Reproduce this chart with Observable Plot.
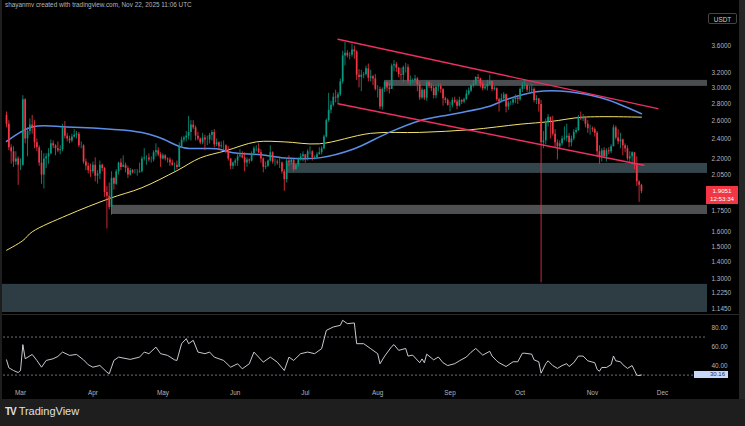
<!DOCTYPE html>
<html><head><meta charset="utf-8">
<script src="https://cdn.jsdelivr.net/npm/d3@7"></script>
<script src="https://cdn.jsdelivr.net/npm/@observablehq/plot@0.6"></script>
<style>
html,body{margin:0;padding:0;background:#000;width:745px;height:426px;overflow:hidden;font-family:"Liberation Sans",Arial,sans-serif;}
#wrap{position:relative;width:745px;height:426px;background:#000;overflow:hidden;}
.abs{position:absolute;}
svg{display:block;}
</style></head><body><div id="wrap">
<div class="abs" style="left:5px;top:1px;font-size:6.4px;color:#b4b4b4;white-space:nowrap">shayanmv created with tradingview.com, Nov 22, 2025 11:06 UTC</div>
<div class="abs" id="price" style="left:0;top:12px"></div>
<div class="abs" style="left:0;top:314px;width:739px;height:1px;background:#2a2a2a"></div>
<div class="abs" id="rsi" style="left:0;top:316px"></div>
<div class="abs" style="left:0;top:0;width:2px;height:399px;background:#1e1e1e"></div>
<div class="abs" style="left:739px;top:0;width:6px;height:399px;background:#262626"></div>
<div class="abs" style="left:708px;top:13px;width:29px;height:11px;border:1px solid #444;border-radius:2px;color:#d0d0d0;font-size:6.4px;line-height:11px;text-align:center;box-sizing:border-box">USDT</div>
<div class="abs" id="plabel" style="left:706px;width:32px;height:18px;background:#f23645;color:#fff;font-size:6.2px;line-height:8px;text-align:center;padding-top:1px;box-sizing:border-box"></div>
<div class="abs" id="rlabel" style="left:694px;width:34px;height:7px;background:#c9d8f6;color:#1a2a5a;font-size:6px;line-height:7px;text-align:right;padding-right:3px;box-sizing:border-box"></div>
<div class="abs" style="left:0;top:399px;width:745px;height:27px;background:#1e1e1e"></div>
<div class="abs" style="left:5px;top:405px;color:#e0e0e0;font-size:11px;line-height:12px;white-space:nowrap"><span style="font-weight:900;letter-spacing:-1px;font-size:10px">TV</span> <span>TradingView</span></div>
</div>
<script>
// ---------- data ----------
const startDate = "2025-02-23";
const firstOpen = 2.66;
const closes = [
 2.56,2.31,2.27,2.17,2.20,2.14,
 2.14,2.85,2.40,2.48,2.55,2.52,2.36,2.31,2.16,2.05, 2.20,2.22,2.25,2.35,2.33,2.30,2.28,2.29,2.52,2.43, 2.40,2.38,2.42,2.44,2.45,2.33,2.33,2.17,2.13,2.09, 2.08,
 2.14,2.04,2.06,2.14,2.11,1.90,1.87,1.78,2.02,1.97, 2.08,2.16,2.12,2.14,2.11,2.05,2.09,2.07,2.07,2.07, 2.08,2.20,2.21,2.21,2.19,2.19,2.26,2.28,2.24,2.20,
 2.23,2.20,2.19,2.16,2.14,2.14,2.12,2.32,2.39,2.41, 2.43,2.47,2.55,2.52,2.43,2.40,2.36,2.41,2.39,2.39, 2.44,2.47,2.34,2.36,2.32,2.33,2.33,2.27,2.20,2.13, 2.16,
 2.18,2.22,2.23,2.21,2.16,2.19,2.18,2.25,2.30,2.30, 2.26,2.20,2.12,2.13,2.18,2.26,2.17,2.17,2.16,2.16, 2.08,2.01,2.18,2.16,2.19,2.10,2.14,2.20,2.22,2.24,
 2.20,2.27,2.27,2.21,2.21,2.24,2.26,2.30,2.42,2.60, 2.72,2.78,2.88,2.87,2.91,3.08,3.45,3.49,3.45,3.46, 3.54,3.51,3.17,3.14,3.17,3.18,3.26,3.13,3.15,3.12, 2.98,
 2.98,2.76,2.98,3.07,3.00,2.98,3.30,3.32,3.27,3.18, 3.17,3.28,3.28,3.09,3.10,3.10,3.12,3.04,2.87,2.97, 2.87,3.07,3.02,2.99,2.90,3.01,3.02,2.98,2.86,2.84, 2.78,
 2.78,2.84,2.82,2.77,2.84,2.82,2.85,2.92,2.96,3.03, 3.05,3.14,3.12,3.05,2.99,3.01,3.05,3.08,2.98,2.99, 2.85,2.82,2.86,2.91,2.76,2.81,2.81,2.85,2.87,2.85,
 2.98,3.03,3.03,2.97,2.97,2.98,2.84,2.86,2.79,2.36, 2.38,2.59,2.64,2.59,2.45,2.36,2.32,2.35,2.40,2.41, 2.43,2.36,2.40,2.47,2.49,2.64,2.62,2.63,2.56,2.51, 2.51,
 2.50,2.46,2.27,2.22,2.28,2.22,2.28,2.27,2.32,2.52, 2.41,2.37,2.39,2.33,2.30,2.20,2.22,2.26,2.14,1.99, 1.96,1.91
];
const highs = [
 2.70,2.60,2.34,2.32,2.27,2.22,
 2.20,2.90,2.86,2.52,2.62,2.66,2.60,2.40,2.33,2.28, 2.25,2.25,2.30,2.39,2.38,2.34,2.37,2.33,2.56,2.59, 2.46,2.43,2.45,2.50,2.48,2.47,2.37,2.34,2.20,2.16, 2.15,
 2.17,2.21,2.09,2.18,2.15,2.12,1.95,1.98,2.08,2.03, 2.10,2.17,2.20,2.23,2.16,2.13,2.11,2.10,2.10,2.10, 2.16,2.22,2.30,2.23,2.25,2.22,2.28,2.35,2.31,2.26,
 2.25,2.24,2.21,2.21,2.19,2.16,2.18,2.36,2.42,2.43, 2.48,2.65,2.60,2.60,2.54,2.47,2.41,2.46,2.44,2.43, 2.46,2.49,2.50,2.40,2.37,2.37,2.38,2.34,2.32,2.20, 2.17,
 2.20,2.25,2.29,2.27,2.26,2.21,2.20,2.27,2.32,2.33, 2.35,2.29,2.21,2.17,2.19,2.33,2.27,2.20,2.19,2.22, 2.17,2.10,2.20,2.23,2.21,2.19,2.15,2.21,2.25,2.27,
 2.24,2.29,2.32,2.28,2.23,2.26,2.31,2.32,2.44,2.62, 2.93,2.83,2.93,2.97,2.94,3.12,3.52,3.66,3.53,3.50, 3.63,3.60,3.53,3.25,3.24,3.21,3.30,3.33,3.24,3.17, 3.18,
 3.03,3.01,3.00,3.09,3.08,3.06,3.33,3.38,3.35,3.28, 3.27,3.30,3.34,3.32,3.16,3.12,3.17,3.14,3.08,3.00, 2.98,3.09,3.09,3.06,3.03,3.03,3.05,3.05,2.99,2.88, 2.86,
 2.82,2.87,2.88,2.85,2.88,2.85,2.87,2.97,3.00,3.04, 3.10,3.15,3.18,3.13,3.08,3.04,3.10,3.17,3.09,3.02, 3.00,2.87,2.92,2.94,2.92,2.83,2.83,2.87,2.91,2.90,
 3.00,3.07,3.10,3.05,3.02,3.04,3.00,2.90,2.86,2.84, 2.48,2.62,2.67,2.62,2.65,2.50,2.39,2.38,2.43,2.53, 2.56,2.46,2.43,2.50,2.52,2.66,2.70,2.67,2.65,2.60, 2.55,
 2.53,2.52,2.48,2.33,2.30,2.31,2.30,2.31,2.34,2.55, 2.54,2.50,2.46,2.40,2.35,2.33,2.27,2.27,2.26,2.22, 2.00,1.97
];
const lows = [
 2.52,2.28,2.15,2.12,2.14,1.96,
 2.09,2.13,2.35,2.22,2.44,2.45,2.30,2.27,2.13,1.97, 1.93,2.11,2.15,2.24,2.30,2.23,2.26,2.24,2.27,2.40, 2.37,2.35,2.36,2.41,2.40,2.31,2.30,2.15,2.09,2.06, 2.03,
 2.06,1.99,1.97,2.01,2.08,1.86,1.62,1.76,1.72,1.92, 1.96,2.05,2.09,2.12,2.07,2.02,2.04,2.06,2.06,2.04, 2.07,2.07,2.18,2.14,2.17,2.16,2.17,2.22,2.22,2.12,
 2.19,2.18,2.16,2.13,2.13,2.08,2.10,2.12,2.30,2.36, 2.37,2.39,2.38,2.50,2.38,2.38,2.34,2.34,2.28,2.33, 2.35,2.38,2.31,2.32,2.28,2.30,2.28,2.25,2.18,2.10, 2.10,
 2.13,2.13,2.21,2.20,2.08,2.12,2.15,2.17,2.23,2.27, 2.25,2.16,2.07,2.10,2.12,2.17,2.15,2.13,2.14,2.11, 2.06,1.91,1.98,2.13,2.14,2.08,2.09,2.12,2.18,2.17,
 2.16,2.18,2.24,2.18,2.19,2.20,2.24,2.24,2.29,2.41, 2.58,2.68,2.76,2.81,2.80,2.89,3.05,3.30,3.42,3.39, 3.43,3.40,3.10,3.00,2.95,3.12,3.16,3.08,3.08,3.03, 2.96,
 2.87,2.73,2.72,2.94,2.95,2.92,2.98,3.22,3.21,3.14, 3.10,3.07,3.20,3.05,3.03,3.06,3.07,2.95,2.84,2.85, 2.84,2.83,2.99,2.95,2.86,2.86,2.95,2.93,2.77,2.80, 2.77,
 2.70,2.75,2.80,2.73,2.76,2.79,2.80,2.84,2.90,2.94, 3.00,3.03,3.08,3.00,2.96,2.97,2.96,3.03,2.95,2.96, 2.83,2.70,2.81,2.84,2.69,2.72,2.78,2.78,2.80,2.79,
 2.83,2.94,2.98,2.94,2.94,2.93,2.81,2.79,2.70,1.28, 2.30,2.34,2.53,2.40,2.43,2.31,2.19,2.30,2.33,2.38, 2.37,2.31,2.32,2.38,2.45,2.48,2.60,2.59,2.52,2.46, 2.44,
 2.47,2.42,2.22,2.15,2.17,2.20,2.17,2.24,2.25,2.32, 2.39,2.34,2.30,2.23,2.26,2.18,2.16,2.14,2.10,1.95, 1.82,1.89
];

// moving averages
const ma100Dates = ["2025-02-23","2025-03-06","2025-03-21","2025-04-22","2025-04-30","2025-05-10","2025-05-24","2025-05-31","2025-06-12","2025-06-22","2025-07-07","2025-07-22","2025-08-05","2025-08-19","2025-09-03","2025-09-18","2025-09-25","2025-10-08","2025-10-22","2025-11-05","2025-11-12","2025-11-22"];
const ma100Vals  = [2.375,2.53,2.53,2.47,2.41,2.31,2.30,2.26,2.24,2.21,2.21,2.30,2.46,2.60,2.68,2.77,2.85,2.95,2.95,2.87,2.80,2.68];
const ma200Dates = ["2025-02-23","2025-03-02","2025-03-06","2025-03-21","2025-04-08","2025-04-22","2025-05-07","2025-05-17","2025-05-28","2025-06-10","2025-06-22","2025-07-07","2025-07-29","2025-08-19","2025-09-10","2025-10-01","2025-10-14","2025-10-28","2025-11-22"];
const ma200Vals  = [1.476,1.54,1.60,1.72,1.85,1.94,2.09,2.21,2.28,2.37,2.37,2.35,2.46,2.47,2.50,2.56,2.59,2.64,2.64];

// descending channel
const upperDates = ["2025-07-15","2025-11-29"], upperVals = [3.71, 2.74];
const lowerDates = ["2025-07-15","2025-11-23"], lowerVals = [2.80, 2.14];

// horizontal zones
const zoneStarts = ["2025-08-04","2025-06-23","2025-04-09","2025-02-21"];
const zoneLows   = [3.02, 2.065, 1.726, 1.125];
const zoneHighs  = [3.10, 2.157, 1.796, 1.272];

const priceTicks = [3.6,3.2,3.0,2.8,2.6,2.4,2.2,2.05,1.75,1.6,1.5,1.4,1.3,1.225,1.145];
const lastPrice = 1.9051, countdown = "12:53:34";

// RSI
const rsiDates = ["2025-02-23","2025-02-24","2025-02-26","2025-02-28","2025-03-01","2025-03-02","2025-03-03","2025-03-06","2025-03-08","2025-03-10","2025-03-12","2025-03-15","2025-03-17","2025-03-19","2025-03-22","2025-03-25","2025-03-28","2025-03-30","2025-04-01","2025-04-04","2025-04-07","2025-04-08","2025-04-10","2025-04-12","2025-04-17","2025-04-21","2025-04-23","2025-04-25","2025-04-28","2025-04-30","2025-05-03","2025-05-06","2025-05-07","2025-05-09","2025-05-11","2025-05-12","2025-05-14","2025-05-16","2025-05-19","2025-05-21","2025-05-23","2025-05-27","2025-05-30","2025-06-02","2025-06-04","2025-06-07","2025-06-09","2025-06-13","2025-06-16","2025-06-19","2025-06-22","2025-06-24","2025-06-26","2025-06-29","2025-07-02","2025-07-05","2025-07-08","2025-07-10","2025-07-13","2025-07-16","2025-07-17","2025-07-19","2025-07-22","2025-07-23","2025-07-26","2025-07-29","2025-08-01","2025-08-02",
 "2025-08-04","2025-08-07","2025-08-08","2025-08-10","2025-08-13","2025-08-14","2025-08-16","2025-08-19","2025-08-20","2025-08-21","2025-08-22","2025-08-25","2025-08-27","2025-08-29","2025-08-31","2025-09-03","2025-09-05","2025-09-08","2025-09-10","2025-09-12","2025-09-15","2025-09-18","2025-09-19","2025-09-21","2025-09-22","2025-09-25","2025-09-28","2025-09-30","2025-10-02","2025-10-03","2025-10-06","2025-10-07","2025-10-09","2025-10-10","2025-10-12","2025-10-13","2025-10-15","2025-10-17","2025-10-19","2025-10-21","2025-10-22","2025-10-24","2025-10-26","2025-10-28","2025-10-30","2025-11-02","2025-11-03","2025-11-04","2025-11-05","2025-11-07","2025-11-09","2025-11-10","2025-11-11","2025-11-13","2025-11-14","2025-11-16","2025-11-18","2025-11-19","2025-11-20","2025-11-21","2025-11-22"];
const rsiVals = [46,37.7,34.8,32.7,34.8,62,47.2,51.7,45.4,38.3,45.4,47.2,49.6,54.2,50.7,51.7,46,40.9,38.3,40.1,33.1,31.4,45.4,48.9,46.5,48.9,54.2,52.5,59.4,52.5,50.7,46,45.4,63,68.3,63,66.5,54.2,52.5,54.2,48.9,45.4,38.3,41.9,36.6,41.9,54.2,43.6,48.9,43.6,34.8,48.9,45.4,52.5,54.2,52.5,57.8,77,80.6,82.3,87.6,84.1,84.8,63,63,57.8,52.5,41.9,
 50,60,62,56,58,50,51,43,47,43,52,46,49,43,40,42,45,49,54,58,51,55,50,45,43,39,44,44,53,53,52,46,44,32,42,45,40,37,40,42,39,43,50,50,45,43,36,34,38,38,41,50,45,44,41,37,40,35,30,29.5,30.16];
const rsiTicks = [80,60,40];
const rsiLevels = [70,30];
const monthTicks = ["2025-03-01","2025-04-01","2025-05-01","2025-06-01","2025-07-01","2025-08-01","2025-09-01","2025-10-01","2025-11-01","2025-12-01"];

// ---------- build ----------
const P = s => new Date(s + "T00:00:00Z");
const start = P(startDate);
const candles = closes.map((c, i) => ({
  date: d3.utcDay.offset(start, i),
  open: i === 0 ? firstOpen : closes[i - 1],
  close: c, high: highs[i], low: lows[i]
}));
console.log("lengths", closes.length, highs.length, lows.length, rsiDates.length, rsiVals.length);

const UP = "#089981", DOWN = "#f23645";
const col = d => d.close >= d.open ? UP : DOWN;
const xDomain = [new Date("2025-02-21T17:00:00Z"), new Date("2025-12-20T07:00:00Z")];
const W = 745, ML = 3, MR = 38;
const axisCol = "#b2b5be";
const zoneFill = ["#4a4d4f", "#34454b", "#4e5052", "#2d3d43"];

const zones = zoneStarts.map((s, i) => ({x1: P(s), x2: xDomain[1], y1: zoneLows[i], y2: zoneHighs[i], i}));
const ma100 = ma100Dates.map((d, i) => ({date: P(d), v: ma100Vals[i]}));
const ma200 = ma200Dates.map((d, i) => ({date: P(d), v: ma200Vals[i]}));
const upper = upperDates.map((d, i) => ({date: P(d), v: upperVals[i]}));
const lower = lowerDates.map((d, i) => ({date: P(d), v: lowerVals[i]}));

const price = Plot.plot({
  width: W, height: 301, marginLeft: ML, marginRight: MR, marginTop: 0, marginBottom: 0,
  style: {background: "transparent", fontFamily: "Liberation Sans, Arial, sans-serif"},
  x: {type: "utc", domain: xDomain, axis: null},
  y: {type: "log", domain: [1.12, 4.17], axis: null},
  marks: [
    Plot.rect(zones, {x1: "x1", x2: "x2", y1: "y1", y2: "y2", fill: d => zoneFill[d.i]}),
    Plot.line(ma200, {x: "date", y: "v", stroke: "#f3e36c", strokeWidth: 1, curve: "catmull-rom"}),
    Plot.line(ma100, {x: "date", y: "v", stroke: "#5b8ee8", strokeWidth: 1.5, curve: "catmull-rom"}),
    Plot.ruleX(candles, {x: "date", y1: "low", y2: "high", stroke: col, strokeWidth: 0.8}),
    Plot.ruleX(candles, {x: "date", y1: "open", y2: "close", stroke: col, strokeWidth: 1.7}),
    Plot.line(upper, {x: "date", y: "v", stroke: "#ee2f62", strokeWidth: 1.4}),
    Plot.line(lower, {x: "date", y: "v", stroke: "#ee2f62", strokeWidth: 1.4}),
    Plot.axisY({anchor: "right", ticks: priceTicks, tickFormat: d => d.toFixed(4), tickSize: 0, tickPadding: 4, fontSize: 6.4, fill: axisCol, label: null})
  ]
});
document.getElementById("price").appendChild(price);

const rsiData = rsiDates.map((d, i) => ({date: P(d), v: rsiVals[i]}));
const rsi = Plot.plot({
  width: W, height: 84, marginLeft: ML, marginRight: MR, marginTop: 0, marginBottom: 16,
  style: {background: "transparent", fontFamily: "Liberation Sans, Arial, sans-serif"},
  x: {type: "utc", domain: xDomain, axis: null},
  y: {domain: [20.1, 91.6], axis: null},
  marks: [
    Plot.ruleY(rsiLevels, {stroke: "#8a8d96", strokeWidth: 0.8, strokeDasharray: "2,2"}),
    Plot.line(rsiData, {x: "date", y: "v", stroke: "#dcdfe6", strokeWidth: 0.9}),
    Plot.axisY({anchor: "right", ticks: rsiTicks, tickFormat: d => d.toFixed(2), tickSize: 0, tickPadding: 4, fontSize: 6.4, fill: axisCol, label: null}),
    Plot.axisX({anchor: "bottom", ticks: monthTicks.map(P), tickFormat: d3.utcFormat("%b"), tickSize: 0, tickPadding: 6, fontSize: 6.4, fill: axisCol, label: null})
  ]
});
document.getElementById("rsi").appendChild(rsi);

// current value labels placed through the scales
const py = price.scale("y").apply(lastPrice) + 12;
const pl = document.getElementById("plabel");
pl.style.top = (py - 5) + "px";
pl.innerHTML = lastPrice.toFixed(4) + "<br>" + countdown;
const ry = rsi.scale("y").apply(rsiVals[rsiVals.length - 1]) + 316;
const rl = document.getElementById("rlabel");
rl.style.top = (ry - 3.5) + "px";
rl.textContent = rsiVals[rsiVals.length - 1].toFixed(2);
</script>
</body></html>
